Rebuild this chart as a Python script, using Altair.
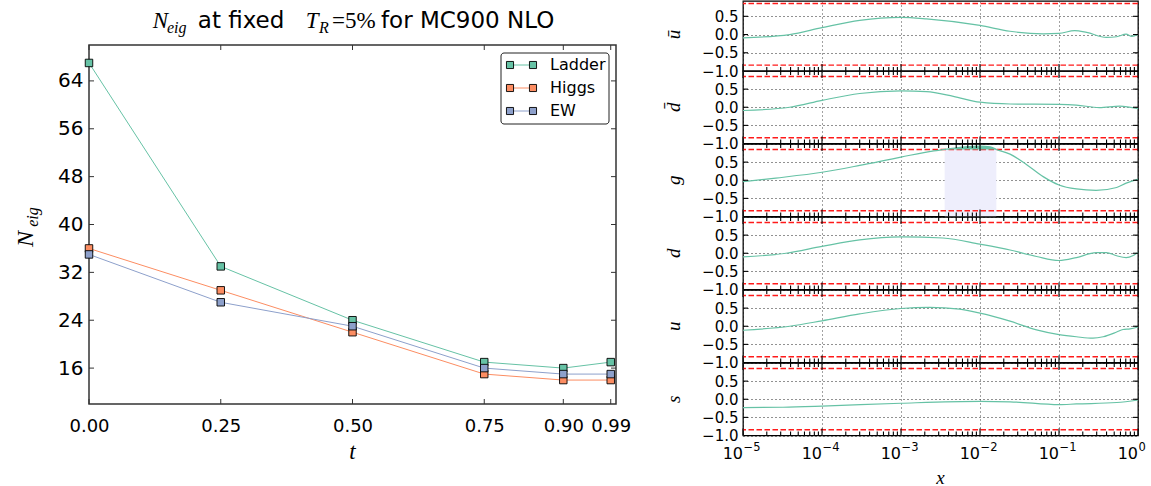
import altair as alt
import pandas as pd

# ---------------- left panel: N_eig versus t ----------------
t_vals = [0.0, 0.25, 0.5, 0.75, 0.9, 0.99]
series_names = ["Ladder", "Higgs", "EW"]
ladder = [67, 33, 24, 17, 16, 17]
higgs = [36, 29, 22, 15, 14, 14]
ew = [35, 27, 23, 16, 15, 15]
series_colors = ["#66c2a5", "#fc8d62", "#8da0cb"]
n_ticks = [16, 24, 32, 40, 48, 56, 64]

# ---------------- right panels: flavour curves ----------------
x_ubar = [1e-5, 3.9e-5, 1e-4, 3.0e-4, 1e-3, 2.1e-3, 1e-2, 2.4e-2, 6.3e-2, 0.1, 0.158, 0.224, 0.398, 0.537, 0.708, 0.832, 1.0]
v_ubar = [-0.09, 0.0, 0.19, 0.39, 0.47, 0.43, 0.25, 0.09, 0.02, 0.03, 0.11, 0.06, -0.08, -0.06, 0.01, -0.05, 0.0]

x_dbar = [1e-5, 3.9e-5, 1e-4, 3.0e-4, 1e-3, 2.1e-3, 4.6e-3, 1e-2, 2.4e-2, 0.1, 0.166, 0.324, 0.589, 1.0]
v_dbar = [-0.09, 0.0, 0.19, 0.38, 0.45, 0.43, 0.30, 0.14, 0.09, 0.08, 0.06, -0.01, 0.03, -0.04]

x_g = [1e-5, 2.6e-5, 1e-4, 3.0e-4, 1e-3, 2.6e-3, 3.57e-3, 4.8e-3, 1e-2, 1.35e-2, 1.61e-2, 2.4e-2, 3.9e-2, 6.3e-2, 0.1, 0.166, 0.295, 0.537, 0.708, 1.0]
v_g = [-0.04, 0.06, 0.22, 0.41, 0.64, 0.81, 0.85, 0.89, 0.94, 0.92, 0.85, 0.72, 0.43, 0.10, -0.13, -0.24, -0.28, -0.20, -0.08, 0.03]

x_d = [1e-5, 3.5e-5, 1e-4, 3.0e-4, 1e-3, 3.4e-3, 1e-2, 2.4e-2, 5.2e-2, 0.1, 0.166, 0.295, 0.398, 0.537, 0.708, 0.871, 1.0]
v_d = [-0.10, 0.0, 0.19, 0.37, 0.45, 0.42, 0.25, 0.09, -0.09, -0.20, -0.12, 0.02, 0.02, -0.07, -0.12, -0.06, 0.02]

x_u = [1e-5, 3.9e-5, 1e-4, 3.0e-4, 1e-3, 2.3e-3, 5.5e-3, 1e-2, 2.4e-2, 5.2e-2, 0.1, 0.166, 0.269, 0.363, 0.537, 0.646, 0.794, 1.0]
v_u = [-0.11, 0.0, 0.15, 0.34, 0.49, 0.52, 0.47, 0.36, 0.14, -0.10, -0.23, -0.29, -0.33, -0.29, -0.16, -0.09, -0.07, -0.02]

x_s = [1e-5, 3.2e-5, 1e-4, 1e-3, 1e-2, 2.4e-2, 0.1, 0.166, 0.537, 1.0]
v_s = [-0.23, -0.22, -0.19, -0.11, -0.06, -0.07, -0.15, -0.13, -0.09, -0.02]

flavour_labels = ["\u016b", "d\u0304", "g", "d", "u", "s"]
flavour_x = [x_ubar, x_dbar, x_g, x_d, x_u, x_s]
flavour_v = [v_ubar, v_dbar, v_g, v_d, v_u, v_s]

red_levels = [0.85, -0.84]
band_x = [3.57e-3, 1.61e-2]          # region where g exceeds the upper threshold
decades = [1e-5, 1e-4, 1e-3, 1e-2, 1e-1, 1.0]
decade_exponents = ["\u22125", "\u22124", "\u22123", "\u22122", "\u22121", "0"]
minor_x = [k * d for d in decades[:-1] for k in range(2, 10)]
y_major = [-0.5, 0.0, 0.5]

GREEN = "#66c2a5"
SANS = "DejaVu Sans"
SERIF = "Liberation Serif"

# ================= left panel =================
WL, HL = 527, 359
xs_l = alt.Scale(domain=[0, 1], nice=False, zero=False)
ys_l = alt.Scale(domain=[10, 70], nice=False, zero=False)
x_axis_l = alt.Axis(values=t_vals, format=".2f", ticks=False, domain=False, grid=False,
                    labelFontSize=18, labelPadding=13, labelFont=SANS, labelColor="black",
                    title=None, labelFlush=False)
y_axis_l = alt.Axis(values=n_ticks, ticks=False, domain=False, grid=False,
                    labelFontSize=20, labelPadding=6, labelFont=SANS, labelColor="black",
                    title=None)

rows = []
for name, vals in zip(series_names, [ladder, higgs, ew]):
    for t, v in zip(t_vals, vals):
        rows.append({"series": name, "t": t, "n": v})
df_left = pd.DataFrame(rows)

color_scale = alt.Scale(domain=series_names, range=series_colors)
enc_x = alt.X("t:Q", scale=xs_l, axis=x_axis_l)
enc_y = alt.Y("n:Q", scale=ys_l, axis=y_axis_l)

lines = alt.Chart(df_left).mark_line(strokeWidth=1).encode(
    x=enc_x, y=enc_y, color=alt.Color("series:N", scale=color_scale, legend=None))
points = alt.Chart(df_left).mark_point(shape="square", filled=True, size=56, stroke="black",
                                       strokeWidth=0.9, opacity=1).encode(
    x=enc_x, y=enc_y, fill=alt.Fill("series:N", scale=color_scale, legend=None))

tick_t = alt.Chart(pd.DataFrame({"t": t_vals}))
tick_n = alt.Chart(pd.DataFrame({"n": n_ticks}))
ticks_l = [
    tick_t.mark_rule(color="#333", strokeWidth=1).encode(x=enc_x, y=alt.value(HL - 5), y2=alt.value(HL)),
    tick_t.mark_rule(color="#333", strokeWidth=1).encode(x=enc_x, y=alt.value(0), y2=alt.value(5)),
    tick_n.mark_rule(color="#333", strokeWidth=1).encode(y=enc_y, x=alt.value(0), x2=alt.value(5)),
    tick_n.mark_rule(color="#333", strokeWidth=1).encode(y=enc_y, x=alt.value(WL - 5), x2=alt.value(WL)),
]

one = alt.Chart(pd.DataFrame({"k": [0]}))

# legend drawn as a framed box with line+square samples
legend_layers = [one.mark_rect(fill="white", stroke="#222", strokeWidth=1, cornerRadius=3).encode(
    x=alt.value(412), x2=alt.value(520), y=alt.value(8), y2=alt.value(79))]
for i, (name, col) in enumerate(zip(series_names, series_colors)):
    yy = 20 + 23 * i
    legend_layers.append(one.mark_rule(color=col, strokeWidth=1).encode(
        x=alt.value(421), x2=alt.value(444), y=alt.value(yy)))
    for xx in (421, 444):
        legend_layers.append(one.mark_point(shape="square", filled=True, size=50, fill=col,
                                            stroke="black", strokeWidth=0.9, opacity=1).encode(
            x=alt.value(xx), y=alt.value(yy)))
    legend_layers.append(one.mark_text(text=name, font=SANS, fontSize=16, align="left",
                                       baseline="middle", color="black").encode(
        x=alt.value(461), y=alt.value(yy)))

# axis titles: N_eig (rotated) and t
axis_titles_l = [
    one.mark_text(text="N", font=SERIF, fontStyle="italic", fontSize=24, angle=270,
                  align="center", baseline="alphabetic", color="black").encode(
        x=alt.value(-56), y=alt.value(194)),
    one.mark_text(text="eig", font=SERIF, fontStyle="italic", fontSize=16, angle=270,
                  align="center", baseline="alphabetic", color="black").encode(
        x=alt.value(-51), y=alt.value(172)),
    one.mark_text(text="t", font=SERIF, fontStyle="italic", fontSize=23,
                  align="center", baseline="alphabetic", color="black").encode(
        x=alt.value(WL / 2), y=alt.value(414)),
]

main_left = alt.layer(lines, points, *ticks_l, *legend_layers, *axis_titles_l).properties(
    width=WL, height=HL, view=alt.ViewBackground(stroke="#333", strokeWidth=1.5))

# title line built from roman, italic and subscript pieces
title_pieces = [
    ("N", 63.7, 27, SERIF, "italic", 23),
    ("eig", 78, 32, SERIF, "italic", 16),
    ("at fixed", 108.8, 27, SANS, "normal", 23),
    ("T", 216.7, 27, SERIF, "italic", 23),
    ("R", 230, 32, SERIF, "italic", 16),
    ("=5%", 243, 27, SERIF, "normal", 23),
    ("for MC900 NLO", 292, 27, SANS, "normal", 23),
]
title_layers = [
    one.mark_text(text=txt, font=fnt, fontStyle=sty, fontSize=sz, align="left",
                  baseline="alphabetic", color="black").encode(x=alt.value(px), y=alt.value(py))
    for txt, px, py, fnt, sty, sz in title_pieces
]
title_band = alt.layer(*title_layers).properties(
    width=WL, height=44, view=alt.ViewBackground(stroke="transparent"))

left_col = alt.vconcat(title_band, main_left, spacing=0, bounds="flush")

# ================= right panels =================
WR = 395


def flavour_panel(i):
    first = i == 0
    last = i == len(flavour_labels) - 1
    top = 0.92 if first else 1.0
    h = 70 if first else 72.5
    xscale = alt.Scale(type="log", domain=[1e-5, 1], nice=False)
    yscale = alt.Scale(domain=[-1, top], nice=False, zero=False)
    xaxis = alt.Axis(values=decades, grid=True, gridDash=[1, 3], gridColor="#444", gridWidth=1,
                     ticks=False, domain=False, labels=False, title=None)
    yaxis = alt.Axis(values=[-1.0, -0.5, 0.0, 0.5], format=".1f", grid=True, gridDash=[1, 3],
                     gridColor="#222", gridWidth=1, ticks=False, domain=False,
                     labelFont=SANS, labelFontSize=15, labelPadding=5, labelColor="black",
                     title=None)
    ex = alt.X("x:Q", scale=xscale, axis=xaxis)
    ey = alt.Y("v:Q", scale=yscale, axis=yaxis)

    df = pd.DataFrame({"x": flavour_x[i], "v": flavour_v[i]})
    layers = []
    if flavour_labels[i] == "g":
        band = pd.DataFrame({"x": [band_x[0]], "x2": [band_x[1]], "v": [-1.0], "v2": [red_levels[0]]})
        layers.append(alt.Chart(band).mark_rect(color="#eeeefc").encode(
            x=ex, x2="x2:Q", y=ey, y2="v2:Q"))
    red = pd.DataFrame({"v": red_levels})
    layers.append(alt.Chart(red).mark_rule(color="#ff1a1a", strokeDash=[5.5, 2.5], strokeWidth=1.4).encode(y=ey))
    layers.append(alt.Chart(df).mark_line(color=GREEN, strokeWidth=1.2, interpolate="monotone").encode(x=ex, y=ey))
    if flavour_labels[i] == "g":
        over = df.copy()
        over["thr"] = red_levels[0]
        layers.append(alt.Chart(over).transform_filter(
            (alt.datum.x >= band_x[0]) & (alt.datum.x <= band_x[1])
        ).mark_area(color=GREEN, interpolate="monotone", opacity=1).encode(x=ex, y=ey, y2="thr:Q"))

    major = alt.Chart(pd.DataFrame({"x": decades}))
    minor = alt.Chart(pd.DataFrame({"x": minor_x}))
    ytk = alt.Chart(pd.DataFrame({"v": y_major}))
    rule = dict(color="black", strokeWidth=1.1)
    layers += [
        major.mark_rule(**rule).encode(x=ex, y=alt.value(h - 7), y2=alt.value(h)),
        minor.mark_rule(**rule).encode(x=ex, y=alt.value(h - 4), y2=alt.value(h)),
        ytk.mark_rule(**rule).encode(y=ey, x=alt.value(0), x2=alt.value(5)),
        ytk.mark_rule(**rule).encode(y=ey, x=alt.value(WR - 5), x2=alt.value(WR)),
    ]
    if not first:
        layers += [
            major.mark_rule(**rule).encode(x=ex, y=alt.value(0), y2=alt.value(7)),
            minor.mark_rule(**rule).encode(x=ex, y=alt.value(0), y2=alt.value(4)),
        ]
    # rotated flavour name, centred on zero
    layers.append(one.mark_text(text=flavour_labels[i], font=SERIF, fontStyle="italic", fontSize=19,
                                angle=270, align="center", baseline="alphabetic", color="black").encode(
        x=alt.value(-63), y=alt.Y(datum=0.0, scale=yscale, axis=yaxis)))
    if last:
        # decade labels 10^k with a raised exponent, and the axis name
        lab = alt.Chart(pd.DataFrame({"x": decades, "e": decade_exponents}))
        layers += [
            lab.mark_text(text="10", font=SANS, fontSize=16, align="right", baseline="alphabetic",
                          color="black").encode(x=ex, y=alt.value(h + 23)),
            lab.mark_text(font=SANS, fontSize=11.5, align="left", baseline="alphabetic",
                          color="black", dx=0.5).encode(x=ex, y=alt.value(h + 15), text="e:N"),
            one.mark_text(text="x", font=SERIF, fontStyle="italic", fontSize=19,
                          align="center", baseline="alphabetic", color="black").encode(
                x=alt.value(WR / 2), y=alt.value(h + 48)),
        ]
    return alt.layer(*layers).properties(
        width=WR, height=h, view=alt.ViewBackground(stroke="black", strokeWidth=1.3))


right_col = alt.vconcat(*[flavour_panel(i) for i in range(len(flavour_labels))],
                        spacing=0, bounds="flush")

chart = alt.hconcat(left_col, right_col, spacing=32).properties(
    padding={"left": 13, "top": 0, "right": 0, "bottom": 0}, background="white"
).configure_axis(labelFont=SANS)

chart.save("out.html", embed_options={"renderer": "svg", "actions": False})
